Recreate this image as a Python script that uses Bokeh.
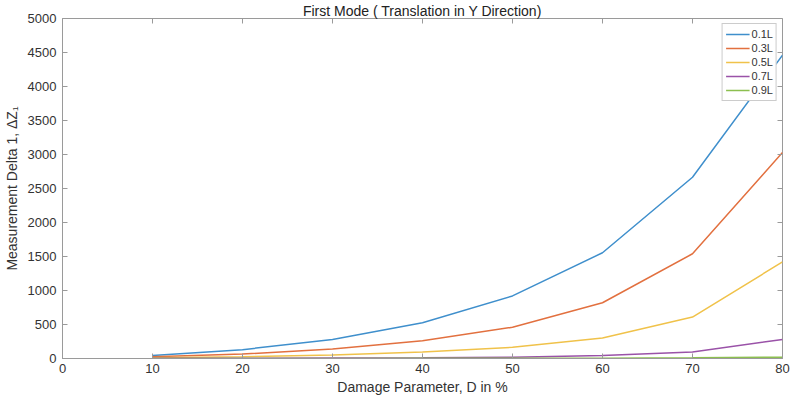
import math
from bokeh.plotting import figure
from bokeh.models import Range1d, Legend, LegendItem, FixedTicker
from bokeh.embed import file_html
from bokeh.resources import INLINE

damage = [10, 20, 30, 40, 50, 60, 70, 80]
s01 = [45, 130, 280, 525, 920, 1555, 2665, 4460]
s03 = [25, 65, 140, 260, 460, 820, 1540, 3030]
s05 = [10, 25, 50, 95, 165, 300, 610, 1420]
s07 = [2, 4, 7, 12, 20, 45, 95, 280]
s09 = [0.5, 1, 1.5, 2, 3, 5, 10, 20]
labels = ["0.1L", "0.3L", "0.5L", "0.7L", "0.9L"]
colors = ["#3f8fcc", "#e2703f", "#f0c24a", "#9a52a8", "#8cbf4f"]
x_ticks = [0, 10, 20, 30, 40, 50, 60, 70, 80]
y_ticks = list(range(0, 5001, 500))

FONT = "Liberation Sans"
AX = "#9a9a9a"
TXT = "#333333"
W, H = 790, 397

p = figure(width=W, height=H, output_backend="svg", toolbar_location=None,
           x_range=Range1d(0, 80), y_range=Range1d(0, 5000),
           title="First Mode ( Translation in Y Direction)",
           min_border_left=62, min_border_right=8, min_border_top=15, min_border_bottom=39)
p.title.text_font = FONT
p.title.text_font_size = "14px"
p.title.text_font_style = "normal"
p.title.text_color = "#222222"
p.title.align = "center"
p.title.offset = 3
p.title.standoff = 0
p.grid.visible = False
p.outline_line_color = AX
p.outline_line_width = 1
p.background_fill_color = "white"

renderers = []
for ys, c in zip([s01, s03, s05, s07, s09], colors):
    r = p.line(damage, ys, line_color=c, line_width=1.5)
    renderers.append(r)

# inward ticks on the top and right edges of the box (half of each dash is clipped)
p.scatter(x=x_ticks, y=[5000] * len(x_ticks), marker="dash", angle=math.pi / 2,
          size=10, line_color=AX, line_width=1)
p.scatter(x=[80] * len(y_ticks), y=y_ticks, marker="dash",
          size=10, line_color=AX, line_width=1)

def style_axis(ax):
    ax.axis_line_color = AX
    ax.major_tick_line_color = AX
    ax.major_tick_in = 5
    ax.major_tick_out = 0
    ax.minor_tick_line_color = None
    ax.major_label_text_font = FONT
    ax.major_label_text_font_size = "13px"
    ax.major_label_text_color = TXT
    ax.axis_label_text_font = FONT
    ax.axis_label_text_font_size = "14px"
    ax.axis_label_text_font_style = "normal"
    ax.axis_label_text_color = TXT

xa = p.xaxis[0]
xa.ticker = FixedTicker(ticks=x_ticks)
xa.axis_label = "Damage Parameter, D in %"
style_axis(xa)
xa.major_label_standoff = 5
xa.axis_label_standoff = 3

ya = p.yaxis[0]
ya.ticker = FixedTicker(ticks=y_ticks)
ya.axis_label = "Measurement Delta 1, \u0394Z\u2081"
style_axis(ya)
ya.major_label_standoff = 6
ya.axis_label_standoff = 5

legend = Legend(items=[LegendItem(label=l, renderers=[r]) for l, r in zip(labels, renderers)],
                location="top_right")
legend.label_text_font = FONT
legend.label_text_font_size = "11px"
legend.label_text_color = TXT
legend.glyph_width = 24
legend.glyph_height = 14
legend.label_height = 14
legend.label_standoff = 2
legend.spacing = 0
legend.padding = 3
legend.margin = 5
legend.border_line_color = AX
legend.background_fill_alpha = 1
p.add_layout(legend)

open("out.html", "w").write(file_html(p, INLINE))
